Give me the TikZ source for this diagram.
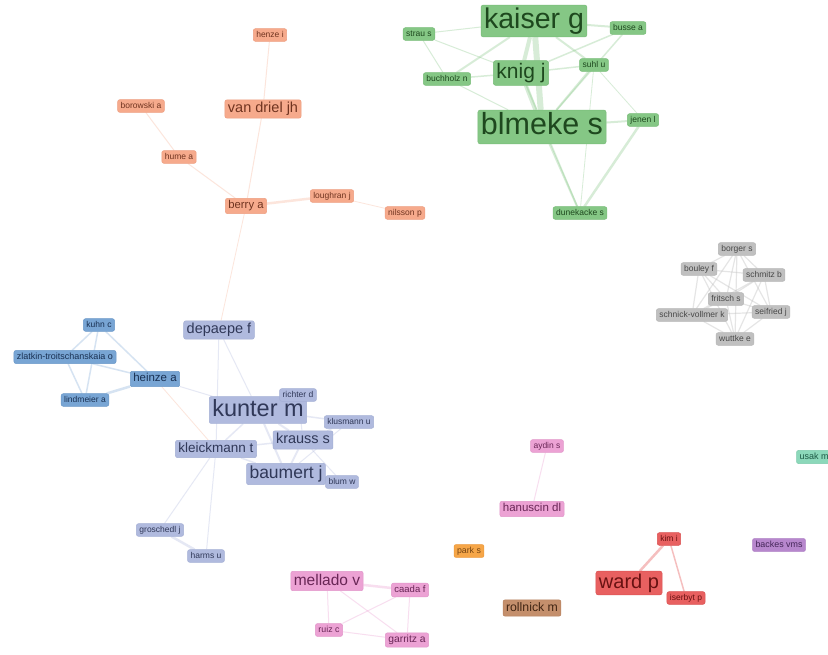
\documentclass[tikz,border=0pt]{standalone}
\usepackage{fontspec}
\setmainfont{Liberation Sans}
\pgfdeclarelayer{bk}
\pgfdeclarelayer{bg}
\pgfsetlayers{bk,bg,main}
\definecolor{grF}{RGB}{133,199,133}\definecolor{grD}{RGB}{120,188,120}\definecolor{grT}{RGB}{30,72,30}
\definecolor{saF}{RGB}{246,170,140}\definecolor{saD}{RGB}{238,158,128}\definecolor{saT}{RGB}{112,52,32}
\definecolor{gyF}{RGB}{192,192,192}\definecolor{gyD}{RGB}{182,182,182}\definecolor{gyT}{RGB}{72,72,72}
\definecolor{blF}{RGB}{120,165,212}\definecolor{blD}{RGB}{106,152,200}\definecolor{blT}{RGB}{25,48,82}
\definecolor{lvF}{RGB}{176,186,222}\definecolor{lvD}{RGB}{164,175,213}\definecolor{lvT}{RGB}{48,56,88}
\definecolor{pkF}{RGB}{236,162,212}\definecolor{pkD}{RGB}{226,150,202}\definecolor{pkT}{RGB}{105,38,86}
\definecolor{orF}{RGB}{246,166,72}\definecolor{orD}{RGB}{236,152,58}\definecolor{orT}{RGB}{118,68,18}
\definecolor{brF}{RGB}{196,143,108}\definecolor{brD}{RGB}{184,130,96}\definecolor{brT}{RGB}{66,38,20}
\definecolor{rdF}{RGB}{232,96,96}\definecolor{rdD}{RGB}{218,82,82}\definecolor{rdT}{RGB}{105,18,18}
\definecolor{puF}{RGB}{183,135,205}\definecolor{puD}{RGB}{172,122,195}\definecolor{puT}{RGB}{68,38,88}
\definecolor{tlF}{RGB}{140,216,186}\definecolor{tlD}{RGB}{126,204,172}\definecolor{tlT}{RGB}{28,88,68}
\tikzset{
 lbl/.style={rounded corners=2pt, inner xsep=3pt, inner ysep=2.2pt, line width=0.5pt,
   execute at begin node={\vrule width0pt height .74em depth .22em\relax}},
 fs/.style={font=\fontsize{#1}{#1}\selectfont},
 fs/.default=8.5,
 gr/.style={lbl, fill=grF, draw=grD, text=grT},
 sa/.style={lbl, fill=saF, draw=saD, text=saT},
 gy/.style={lbl, fill=gyF, draw=gyD, text=gyT},
 bl/.style={lbl, fill=blF, draw=blD, text=blT},
 lv/.style={lbl, fill=lvF, draw=lvD, text=lvT},
 pk/.style={lbl, fill=pkF, draw=pkD, text=pkT},
 ornode/.style={lbl, fill=orF, draw=orD, text=orT},
 br/.style={lbl, fill=brF, draw=brD, text=brT},
 rd/.style={lbl, fill=rdF, draw=rdD, text=rdT},
 pu/.style={lbl, fill=puF, draw=puD, text=puT},
 tl/.style={lbl, fill=tlF, draw=tlD, text=tlT},
 ged/.style={draw=grF, draw opacity=0.32, line width=#1}, ged/.default=1.5,
 sed/.style={draw=saF, draw opacity=0.3, line width=#1}, sed/.default=1,
 bed/.style={draw=blF, draw opacity=0.3, line width=#1}, bed/.default=1.5,
 led/.style={draw=lvF, draw opacity=0.32, line width=#1}, led/.default=1.2,
 yed/.style={draw=gyF, draw opacity=0.4, line width=#1}, yed/.default=1.2,
 ped/.style={draw=pkF, draw opacity=0.35, line width=#1}, ped/.default=1,
 red/.style={draw=rdF, draw opacity=0.4, line width=#1}, red/.default=1.5,
}
\begin{document}
\begin{tikzpicture}[x=1pt,y=-1pt]
\clip (0,0) rectangle (828,655);
\begin{pgfonlayer}{bk}
\fill[white] (0,0) rectangle (828,655);
\end{pgfonlayer}
% green cluster
\node[gr,fs=28.5] (kaiser) at (534,21) {kaiser g};
\node[gr,fs=21] (knig) at (521,73) {knig j};
\node[gr,fs=30.5] (blmeke) at (542,127) {blmeke s};
\node[gr,fs] (strau) at (419,34) {strau s};
\node[gr,fs] (busse) at (628,28) {busse a};
\node[gr,fs] (buchholz) at (447,79) {buchholz n};
\node[gr,fs] (suhl) at (594,65) {suhl u};
\node[gr,fs] (jenen) at (643,120) {jenen l};
\node[gr,fs] (dunekacke) at (580,213) {dunekacke s};
% salmon cluster
\node[sa,fs] (henze) at (270,35) {henze i};
\node[sa,fs=14.5] (vandriel) at (263,109) {van driel jh};
\node[sa,fs] (borowski) at (141,106) {borowski a};
\node[sa,fs] (hume) at (179,157) {hume a};
\node[sa,fs=11.3] (berry) at (246,206) {berry a};
\node[sa,fs] (loughran) at (332,196) {loughran j};
\node[sa,fs] (nilsson) at (405,213) {nilsson p};
% grey cluster
\node[gy,fs] (borger) at (737,249) {borger s};
\node[gy,fs] (bouley) at (699,269) {bouley f};
\node[gy,fs] (schmitz) at (764,275) {schmitz b};
\node[gy,fs] (fritsch) at (726,299) {fritsch s};
\node[gy,fs] (schnick) at (692,315) {schnick-vollmer k};
\node[gy,fs] (seifried) at (771,312) {seifried j};
\node[gy,fs] (wuttke) at (735,339) {wuttke e};
% blue cluster
\node[bl,fs] (kuhn) at (99,325) {kuhn c};
\node[bl,fs=9] (zlatkin) at (65,357) {zlatkin-troitschanskaia o};
\node[bl,fs=11.5] (heinze) at (155,379) {heinze a};
\node[bl,fs] (lindmeier) at (85,400) {lindmeier a};
% lavender cluster
\node[lv,fs=14.5] (depaepe) at (219,330) {depaepe f};
\node[lv,fs=23.5] (kunter) at (258,410) {kunter m};
\node[lv,fs] (richter) at (298,395) {richter d};
\node[lv,fs] (klusmann) at (349,422) {klusmann u};
\node[lv,fs=14.5] (krauss) at (303,440) {krauss s};
\node[lv,fs=13.5] (kleickmann) at (216,449) {kleickmann t};
\node[lv,fs=17.5] (baumert) at (286,474) {baumert j};
\node[lv,fs] (blum) at (342,482) {blum w};
\node[lv,fs] (groschedl) at (160,530) {groschedl j};
\node[lv,fs] (harms) at (206,556) {harms u};
% pink cluster
\node[pk,fs] (aydin) at (547,446) {aydin s};
\node[pk,fs=11.5] (hanuscin) at (532,509) {hanuscin dl};
\node[pk,fs=15.5] (mellado) at (327,581) {mellado v};
\node[pk,fs=9.5] (caada) at (410,590) {caada f};
\node[pk,fs=8.8] (ruiz) at (329,630) {ruiz c};
\node[pk,fs=10.3] (garritz) at (407,640) {garritz a};
% others
\node[ornode,fs=8.8] (park) at (469,551) {park s};
\node[br,fs=12.3] (rollnick) at (532,608) {rollnick m};
\node[rd,fs=20] (ward) at (629,583) {ward p};
\node[rd,fs] (kim) at (669,539) {kim i};
\node[rd,fs] (iserbyt) at (686,598) {iserbyt p};
\node[pu,fs=8.9] (backes) at (779,545) {backes vms};
\node[tl,fs=9] (usak) at (814,457) {usak m};

\begin{pgfonlayer}{bg}
% green edges
\draw[ged=6] (kaiser) -- (blmeke);
\draw[ged=4] (kaiser) -- (knig);
\draw[ged=4] (knig) -- (blmeke);
\draw[ged=2] (kaiser) -- (busse);
\draw[ged=2] (kaiser) -- (suhl);
\draw[ged=2] (kaiser) -- (buchholz);
\draw[ged=1] (kaiser) -- (strau);
\draw[ged=1] (strau) -- (buchholz);
\draw[ged=1] (strau) -- (knig);
\draw[ged=1.5] (buchholz) -- (knig);
\draw[ged=1] (buchholz) -- (blmeke);
\draw[ged=1.5] (knig) -- (suhl);
\draw[ged=1.5] (knig) -- (busse);
\draw[ged=2] (suhl) -- (blmeke);
\draw[ged=1.5] (busse) -- (blmeke);
\draw[ged=0.8] (suhl) -- (dunekacke);
\draw[ged=0.8] (suhl) -- (jenen);
\draw[ged=2] (blmeke) -- (jenen);
\draw[ged=2.5] (jenen) -- (dunekacke);
\draw[ged=2] (blmeke) -- (dunekacke);
\draw[ged=1.5] (knig) -- (dunekacke);
% salmon edges
\draw[sed] (henze) -- (vandriel);
\draw[sed] (vandriel) -- (berry);
\draw[sed] (borowski) -- (hume);
\draw[sed] (hume) -- (berry);
\draw[sed=2.5] (berry) -- (loughran);
\draw[sed=0.8] (loughran) -- (nilsson);
\draw[sed=0.8] (berry) -- (depaepe);
\draw[sed=0.8] (heinze) -- (kleickmann);
% blue edges
\draw[bed] (kuhn) -- (zlatkin);
\draw[bed] (kuhn) -- (heinze);
\draw[bed] (kuhn) -- (lindmeier);
\draw[bed] (zlatkin) -- (heinze);
\draw[bed] (zlatkin) -- (lindmeier);
\draw[bed=2.5] (heinze) -- (lindmeier);
% lavender edges
\draw[led=1] (heinze) -- (kunter);
\draw[led=1] (depaepe) -- (kunter);
\draw[led=1] (depaepe) -- (kleickmann);
\draw[led=2] (kunter) -- (krauss);
\draw[led=2] (kunter) -- (baumert);
\draw[led=1.5] (kunter) -- (kleickmann);
\draw[led=1] (kunter) -- (richter);
\draw[led=1.5] (kunter) -- (klusmann);
\draw[led=2] (krauss) -- (baumert);
\draw[led=1.5] (krauss) -- (kleickmann);
\draw[led=1] (krauss) -- (blum);
\draw[led=1] (baumert) -- (blum);
\draw[led=1.5] (baumert) -- (kleickmann);
\draw[led=1] (klusmann) -- (baumert);
\draw[led=1] (klusmann) -- (krauss);
\draw[led=1] (richter) -- (krauss);
\draw[led=1] (kleickmann) -- (groschedl);
\draw[led=1] (kleickmann) -- (harms);
\draw[led=2.5] (groschedl) -- (harms);
% grey edges
\foreach \a/\b in {borger/bouley,borger/schmitz,borger/fritsch,borger/schnick,borger/seifried,borger/wuttke,
  bouley/schmitz,bouley/fritsch,bouley/schnick,bouley/seifried,bouley/wuttke,
  schmitz/fritsch,schmitz/schnick,schmitz/seifried,schmitz/wuttke,
  fritsch/schnick,fritsch/seifried,fritsch/wuttke,
  schnick/seifried,schnick/wuttke,seifried/wuttke}
  \draw[yed] (\a) -- (\b);
% pink edges
\draw[ped=2.5] (mellado) -- (caada);
\draw[ped] (mellado) -- (ruiz);
\draw[ped] (mellado) -- (garritz);
\draw[ped] (caada) -- (garritz);
\draw[ped] (caada) -- (ruiz);
\draw[ped] (ruiz) -- (garritz);
\draw[ped] (aydin) -- (hanuscin);
% red edges
\draw[red=2.5] (ward) -- (kim);
\draw[red=1.5] (kim) -- (iserbyt);
\end{pgfonlayer}
\end{tikzpicture}
\end{document}
